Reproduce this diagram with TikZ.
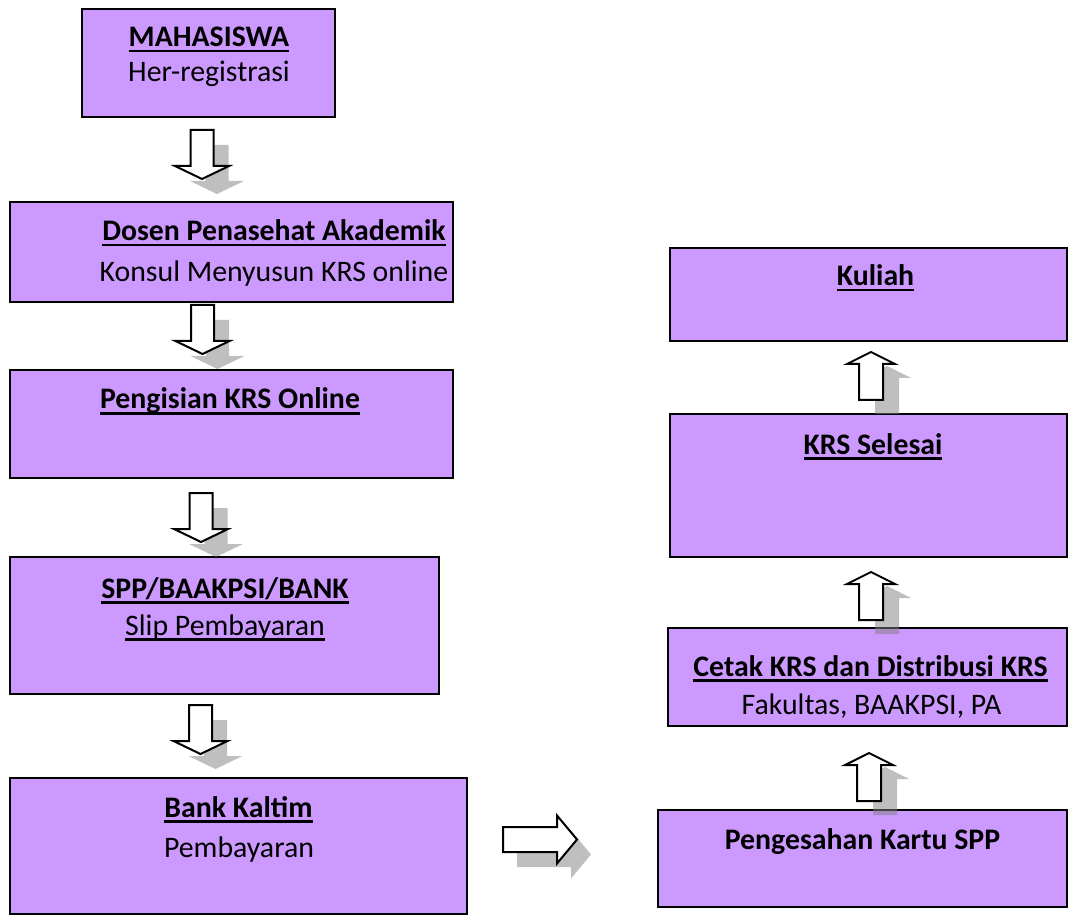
\documentclass[tikz,border=0pt]{standalone}
\usepackage{fontspec}
\setmainfont{Carlito}
\definecolor{boxfill}{RGB}{204,153,255}
\definecolor{shadowgray}{RGB}{128,128,128}
% underline at a fixed depth below the baseline
\newcommand\ulbar[1]{\setbox0=\hbox{#1}\rlap{\rule[-5.5pt]{\wd0}{2.2pt}}\box0}
\begin{document}
\begin{tikzpicture}[x=1pt,y=-1pt,
  box/.style={draw=black, line width=2.2pt, fill=boxfill, inner sep=0pt},
  lbl/.style={anchor=base, inner sep=0pt, font=\fontsize{29.8}{34}\selectfont},
  ttl/.style={anchor=base, inner sep=0pt, font=\fontsize{29.8}{34}\selectfont\bfseries},
  shadowfill/.style={fill=shadowgray, fill opacity=0.5},
  arrowline/.style={draw=black, fill=white, line width=2pt, line join=miter},
  dnarrow/.pic={
    \fill[shadowfill, shift={(15,15)}] (-11.5,0) -- (11.5,0) -- (11.5,36) -- (27,36) -- (0,49) -- (-27,36) -- (-11.5,36) -- cycle;
    \path[arrowline] (-11.5,0) -- (11.5,0) -- (11.5,36) -- (27,36) -- (0,49) -- (-27,36) -- (-11.5,36) -- cycle;
  },
  uparrow/.pic={
    \fill[shadowfill, shift={(16,14)}] (0,0) -- (24,12) -- (12,12) -- (12,48) -- (-12,48) -- (-12,12) -- (-24,12) -- cycle;
    \path[arrowline] (0,0) -- (24,12) -- (12,12) -- (12,48) -- (-12,48) -- (-12,12) -- (-24,12) -- cycle;
  },
  rtarrow/.pic={
    \fill[shadowfill, shift={(14,15)}] (0,0) -- (-20,24) -- (-20,12.5) -- (-74,12.5) -- (-74,-12.5) -- (-20,-12.5) -- (-20,-24) -- cycle;
    \path[arrowline] (0,0) -- (-20,24) -- (-20,12.5) -- (-74,12.5) -- (-74,-12.5) -- (-20,-12.5) -- (-20,-24) -- cycle;
  }]
\useasboundingbox (0,0) rectangle (1069,917);

% left column boxes
\node[box, minimum width=253pt, minimum height=108pt] (mhs) at (208.5,63) {};
\node[box, minimum width=443pt, minimum height=100pt] (dpa) at (231.5,252) {};
\node[box, minimum width=443pt, minimum height=108pt] (isi) at (231.5,424) {};
\node[box, minimum width=429pt, minimum height=137pt] (spp) at (224.5,625.5) {};
\node[box, minimum width=457pt, minimum height=136pt] (bank) at (238.5,846) {};
% right column boxes
\node[box, minimum width=397pt, minimum height=93pt] (kul) at (868.5,294.5) {};
\node[box, minimum width=397pt, minimum height=143pt] (sel) at (868.5,485.5) {};
\node[box, minimum width=399pt, minimum height=98pt] (ctk) at (867.5,677) {};
\node[box, minimum width=409pt, minimum height=97pt] (sah) at (862.5,858.5) {};

% texts
\node[ttl] (t1) at (209,47) {\ulbar{MAHASISWA}};
\node[lbl] (s1) at (209,82) {Her-registrasi};
\node[ttl] (t2) at (274,241) {\ulbar{Dosen Penasehat Akademik}};
\node[lbl] (s2) at (274,282) {Konsul Menyusun KRS online};
\node[ttl] (t3) at (230,409) {\ulbar{Pengisian KRS Online}};
\node[ttl] (t4) at (225,598) {\ulbar{SPP/BAAKPSI/BANK}};
\node[lbl] (s4) at (225,635) {\ulbar{Slip Pembayaran}};
\node[ttl] (t5) at (238.5,817) {\ulbar{Bank Kaltim}};
\node[lbl] (s5) at (239,857) {Pembayaran};
\node[ttl] (t6) at (875.5,286) {\ulbar{Kuliah}};
\node[ttl] (t7) at (873,454) {\ulbar{KRS Selesai}};
\node[ttl] (t8) at (870.5,676) {\ulbar{Cetak KRS dan Distribusi KRS}};
\node[lbl] (s8) at (871.5,714) {Fakultas, BAAKPSI, PA};
\node[ttl] (t9) at (862.5,849) {Pengesahan Kartu SPP};

% block arrows between the steps
\pic (a1) at (202,130) {dnarrow};
\pic (a2) at (202.5,305) {dnarrow};
\pic (a3) at (201,493) {dnarrow};
\pic (a4) at (200.5,705) {dnarrow};
\pic (a5) at (577,839.5) {rtarrow};
\pic (a6) at (869,753) {uparrow};
\pic (a7) at (871,572) {uparrow};
\pic (a8) at (871,352) {uparrow};
\end{tikzpicture}
\end{document}
